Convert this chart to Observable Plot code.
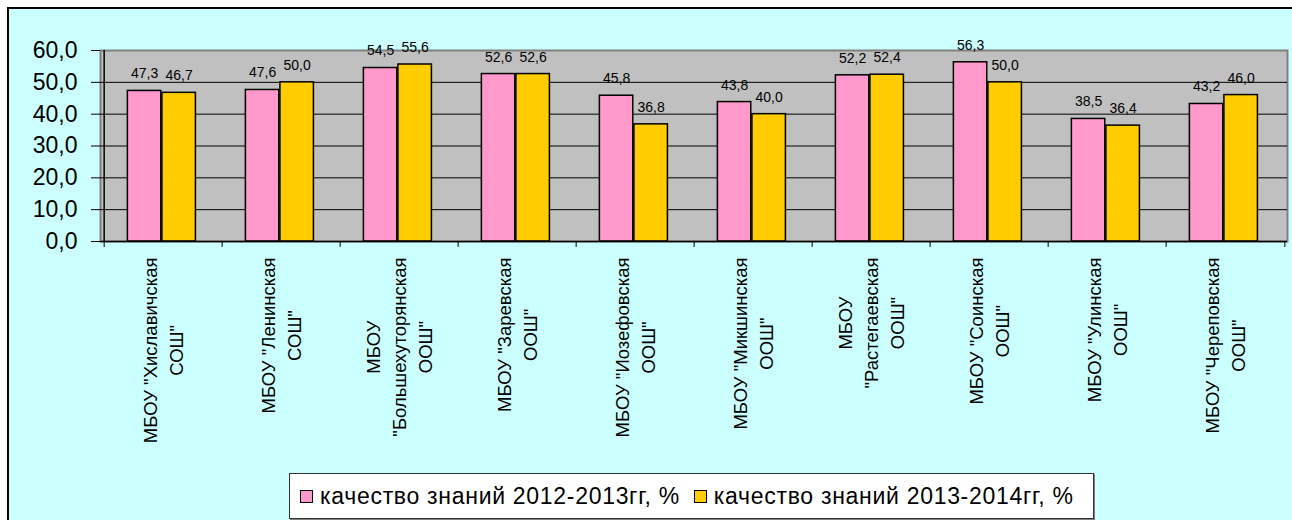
<!DOCTYPE html>
<html>
<head>
<meta charset="utf-8">
<script src="https://cdn.jsdelivr.net/npm/d3@7"></script>
<script src="https://cdn.jsdelivr.net/npm/@observablehq/plot@0.6"></script>
<style>
  html, body { margin: 0; padding: 0; background: #ffffff; overflow: hidden; width: 1292px; height: 520px; }
  #bg { position: absolute; left: 7px; top: 7px; width: 1400px; height: 600px; background: #CCFFFF;
        border-top: 2px solid #000; border-left: 2px solid #000; }
  #chart { position: absolute; left: 0; top: 0; }
  #legend { position: absolute; left: 289px; top: 473px; width: 805px; height: 46px; background: #fff;
            border: 1px solid #333; box-shadow: 1px 1px 0 #808080; font-family: Arial, "Liberation Sans", sans-serif;
            font-size: 23px; letter-spacing: 0.7px; display: flex; align-items: center; padding-left: 10px;
            box-sizing: border-box; white-space: nowrap; color: #000; }
  .sw { display: inline-block; width: 11px; height: 11px; border: 1.5px solid #000; margin-right: 7px; }
  .item { display: flex; align-items: center; margin-right: 14px; }
</style>
</head>
<body>
<div id="bg"></div>
<div id="chart"></div>
<div id="legend"></div>
<script>
const schools = [
  'МБОУ "Хиславичская\nСОШ"',
  'МБОУ "Ленинская\nСОШ"',
  'МБОУ\n"Большехуторянская\nООШ"',
  'МБОУ "Заревская\nООШ"',
  'МБОУ "Иозефовская\nООШ"',
  'МБОУ "Микшинская\nООШ"',
  'МБОУ\n"Растегаевская\nООШ"',
  'МБОУ "Соинская\nООШ"',
  'МБОУ "Улинская\nООШ"',
  'МБОУ "Череповская\nООШ"'
];
const seriesNames = ["качество знаний 2012-2013гг, %", "качество знаний 2013-2014гг, %"];
const values2012 = [47.3, 47.6, 54.5, 52.6, 45.8, 43.8, 52.2, 56.3, 38.5, 43.2];
const values2013 = [46.7, 50.0, 55.6, 52.6, 36.8, 40.0, 52.4, 50.0, 36.4, 46.0];
const yTicks = [0, 10, 20, 30, 40, 50, 60];
const colors = ["#FF99CC", "#FFCC00"];

const fmt = v => v.toFixed(1).replace(".", ",");
const d2012 = schools.map((s, i) => ({school: s, value: values2012[i]}));
const d2013 = schools.map((s, i) => ({school: s, value: values2013[i]}));

const W = 1292, H = 470, ML = 100, MR = 5, MT = 50, MB = 229;
const step = (W - ML - MR) / schools.length;
const pinkL = 0.197, pinkR = 0.484, yelL = 0.488, yelR = 0.776;
const font = 'Arial, "Liberation Sans", sans-serif';
const labelSize = 18.5;

const ctx = document.createElement("canvas").getContext("2d");
ctx.font = `${labelSize}px Arial, "Liberation Sans", sans-serif`;
const labelMarks = schools.map(s => {
  const maxw = Math.max(...s.split("\n").map(l => ctx.measureText(l).width));
  return Plot.text([s], {x: d => d, text: d => d, frameAnchor: "bottom", rotate: -90,
    textAnchor: "middle", lineAnchor: "middle", lineHeight: 1.42, fontSize: labelSize,
    dx: -2, dy: 16 + maxw / 2, fill: "#000"});
});

const chart = Plot.plot({
  width: W, height: H,
  marginLeft: ML, marginRight: MR, marginTop: MT, marginBottom: MB,
  style: {fontFamily: font, background: "transparent", overflow: "visible", color: "#000"},
  x: {domain: schools, padding: 0, label: null},
  y: {domain: [0, 60], label: null},
  marks: [
    Plot.frame({fill: "#C0C0C0", stroke: "#808080", strokeWidth: 2}),
    Plot.ruleY(yTicks.filter(t => t > 0 && t < 60), {stroke: "#000", strokeWidth: 1}),
    Plot.barY(d2012, {x: "school", y: "value", fill: colors[0], stroke: "#000", strokeWidth: 1.5,
      insetLeft: pinkL * step, insetRight: (1 - pinkR) * step}),
    Plot.barY(d2013, {x: "school", y: "value", fill: colors[1], stroke: "#000", strokeWidth: 1.5,
      insetLeft: yelL * step, insetRight: (1 - yelR) * step}),
    Plot.text(d2012, {x: "school", y: "value", text: d => fmt(d.value), dx: ((pinkL + pinkR) / 2 - 0.5) * step,
      dy: -17, fontSize: 14, fill: "#000"}),
    Plot.text(d2013, {x: "school", y: "value", text: d => fmt(d.value), dx: ((yelL + yelR) / 2 - 0.5) * step,
      dy: -17, fontSize: 14, fill: "#000"}),
    Plot.ruleY([0], {stroke: "#000", strokeWidth: 1.5}),
    Plot.ruleX([schools[0]], {dx: -step / 2, stroke: "#000", strokeWidth: 1.5}),
    Plot.axisY({ticks: yTicks, tickSize: 9, tickPadding: 14, fontSize: 23, tickFormat: fmt, label: null}),
    Plot.axisX({tickSize: 6, tickFormat: () => "", dx: -step / 2, label: null}),
    Plot.axisX({ticks: [schools[schools.length - 1]], tickSize: 6, tickFormat: () => "", dx: step / 2, label: null}),
    ...labelMarks
  ]
});
document.getElementById("chart").appendChild(chart);

const legend = document.getElementById("legend");
seriesNames.forEach((n, i) => {
  const it = document.createElement("span");
  it.className = "item";
  it.innerHTML = `<span class="sw" style="background:${colors[i]}"></span><span>${n}</span>`;
  legend.appendChild(it);
});
</script>
</body>
</html>
